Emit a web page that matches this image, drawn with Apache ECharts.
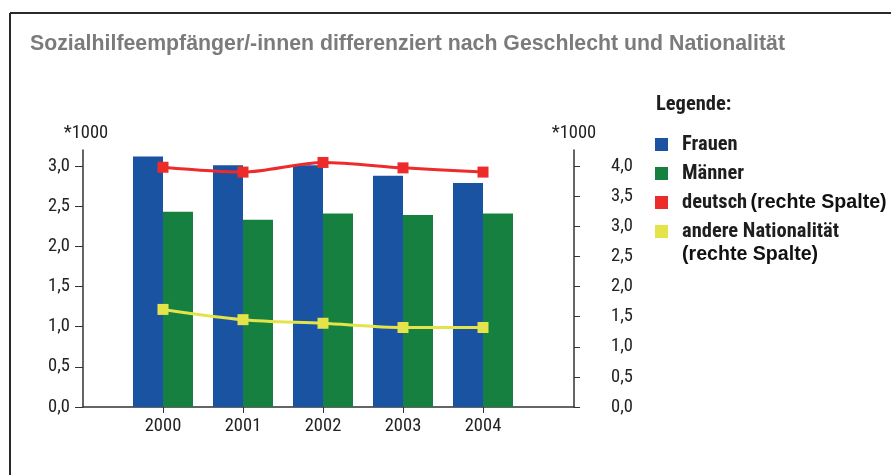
<!DOCTYPE html>
<html>
<head>
<meta charset="utf-8">
<script src="https://cdn.jsdelivr.net/npm/echarts@6/dist/echarts.min.js"></script>
<style>
  html, body { margin: 0; padding: 0; background: #fff; }
  #charts { width: 891px; height: 475px; }
</style>
</head>
<body>
<div id="charts"></div>
<script>
// Werte (*1000)
var years = [2000, 2001, 2002, 2003, 2004];
var frauen = [3.12, 3.01, 3.01, 2.88, 2.79];
var maenner = [2.43, 2.33, 2.41, 2.39, 2.41];
var deutsch = [3.98, 3.90, 4.06, 3.97, 3.90];
var andere = [1.62, 1.45, 1.39, 1.32, 1.32];
var leftTicks = [0, 0.5, 1, 1.5, 2, 2.5, 3];
var rightTicks = [0, 0.5, 1, 1.5, 2, 2.5, 3, 3.5, 4];

var narrow = "'Roboto Condensed', Roboto, sans-serif";
var arial = "'Liberation Sans', Arial, sans-serif";

function pairs(vals) {
    return years.map(function (y, i) { return [y, vals[i]]; });
}
function komma(v) {
    return v.toFixed(1).replace('.', ',');
}

var chartDom = document.getElementById('charts');
var myChart = echarts.init(chartDom);
var option = {
    animation: false,
    title: [
        {
            text: 'Sozialhilfeempfänger/-innen differenziert nach Geschlecht und Nationalität',
            left: 30,
            top: 34,
            padding: 0,
            textStyle: { color: '#7b7b7b', fontSize: 21.3, fontWeight: 'bold', fontFamily: arial }
        },
        {
            text: 'Legende:',
            left: 656,
            top: 94,
            padding: 0,
            textStyle: { color: '#1e1e1e', fontSize: 20.5, fontWeight: 'bold', fontFamily: narrow }
        }
    ],
    legend: {
        orient: 'vertical',
        left: 655,
        top: 134,
        padding: 0,
        itemWidth: 13,
        itemHeight: 13,
        itemGap: 8,
        icon: 'rect',
        data: ['Frauen', 'Männer', 'deutsch', 'andere Nationalität'],
        formatter: function (name) {
            if (name == 'deutsch') {
                return '{n|deutsch} {r|(rechte Spalte)}';
            }
            return '{n|' + name + '}';
        },
        textStyle: {
            color: '#1e1e1e',
            lineHeight: 18,
            rich: {
                n: { fontSize: 20.5, lineHeight: 18, fontWeight: 'bold', fontFamily: narrow, color: '#1e1e1e', padding: [0, 0, 0, 9] },
                r: { fontSize: 19.6, lineHeight: 18, fontWeight: 'bold', fontFamily: arial, color: '#111' }
            }
        }
    },
    graphic: [
        { type: 'line', shape: { x1: 10, y1: 13, x2: 891, y2: 13 }, style: { stroke: '#2a2a2a', lineWidth: 2 } },
        { type: 'line', shape: { x1: 10, y1: 13, x2: 10, y2: 475 }, style: { stroke: '#2a2a2a', lineWidth: 2 } },
        {
            type: 'text', left: 682, top: 245,
            style: { text: '(rechte Spalte)', fill: '#111', font: 'bold 19.6px ' + arial }
        }
    ],
    grid: {
        left: 83,
        right: 317,
        top: 150,
        bottom: 68
    },
    xAxis: {
        type: 'value',
        min: 1999,
        max: 2005.1375,
        interval: 1,
        splitLine: { show: false },
        axisLine: { show: true, lineStyle: { color: '#333', width: 1.5 } },
        axisTick: { show: true, length: 6, customValues: years, lineStyle: { color: '#333' } },
        axisLabel: {
            customValues: years,
            margin: 10,
            color: '#222',
            fontSize: 18.5,
            fontFamily: narrow,
            formatter: function (v) { return String(v); }
        }
    },
    yAxis: [
        {
            type: 'value',
            min: 0,
            max: 3.2,
            interval: 0.5,
            name: '*1000',
            nameLocation: 'end',
            nameGap: 7,
            nameTextStyle: { color: '#222', fontSize: 18.5, fontFamily: narrow, padding: [0, 0, 0, 6] },
            splitLine: { show: false },
            axisLine: { show: true, lineStyle: { color: '#333', width: 1.5 } },
            axisTick: { show: true, length: 8, customValues: leftTicks, lineStyle: { color: '#333' } },
            axisLabel: {
                customValues: leftTicks,
                margin: 13,
                color: '#222',
                fontSize: 18.5,
                fontFamily: narrow,
                formatter: komma
            }
        },
        {
            type: 'value',
            position: 'right',
            min: 0,
            max: 4.2667,
            interval: 0.5,
            name: '*1000',
            nameLocation: 'end',
            nameGap: 7,
            nameTextStyle: { color: '#222', fontSize: 18.5, fontFamily: narrow },
            splitLine: { show: false },
            axisLine: { show: true, lineStyle: { color: '#333', width: 1.5 } },
            axisTick: { show: true, length: 6, customValues: rightTicks, lineStyle: { color: '#333' } },
            axisLabel: {
                customValues: rightTicks,
                margin: 37,
                color: '#222',
                fontSize: 18.5,
                fontFamily: narrow,
                formatter: komma
            }
        }
    ],
    series: [
        {
            name: 'Frauen',
            type: 'bar',
            barWidth: 30,
            barGap: '0%',
            data: pairs(frauen),
            itemStyle: { color: '#1b53a3' }
        },
        {
            name: 'Männer',
            type: 'bar',
            barWidth: 30,
            barGap: '0%',
            data: pairs(maenner),
            itemStyle: { color: '#168040' }
        },
        {
            name: 'deutsch',
            type: 'line',
            yAxisIndex: 1,
            data: pairs(deutsch),
            smooth: 0.3,
            symbol: 'rect',
            symbolSize: 11,
            lineStyle: { color: '#ee2b2b', width: 3 },
            itemStyle: { color: '#ee2b2b' }
        },
        {
            name: 'andere Nationalität',
            type: 'line',
            yAxisIndex: 1,
            data: pairs(andere),
            smooth: 0.3,
            symbol: 'rect',
            symbolSize: 11,
            lineStyle: { color: '#e4e44a', width: 3 },
            itemStyle: { color: '#e4e44a' }
        }
    ]
};
option && myChart.setOption(option);
</script>
</body>
</html>
